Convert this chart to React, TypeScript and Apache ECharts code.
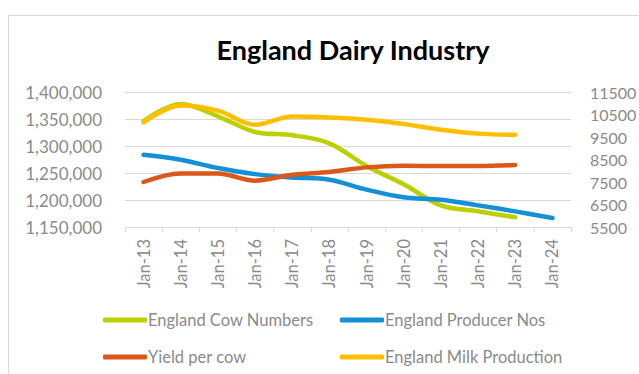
import React, { useEffect, useRef } from "react";
import * as echarts from "echarts";

const categories = ["Jan-13", "Jan-14", "Jan-15", "Jan-16", "Jan-17", "Jan-18", "Jan-19", "Jan-20", "Jan-21", "Jan-22", "Jan-23", "Jan-24"];
const cowNumbers = [1346000, 1378000, 1355000, 1326000, 1320000, 1305000, 1263000, 1229000, 1190000, 1179000, 1168000, null];
const producerNos = [8710, 8490, 8120, 7850, 7700, 7600, 7160, 6820, 6710, 6460, 6195, 5900];
const yieldPerCow = [7500, 7880, 7880, 7560, 7820, 7945, 8150, 8220, 8210, 8210, 8255, null];
const milkProduction = [10150, 10900, 10670, 10050, 10415, 10370, 10270, 10080, 9825, 9650, 9600, null];
const leftTicks = [1150000, 1200000, 1250000, 1300000, 1350000, 1400000];
const rightTicks = [5500, 6500, 7500, 8500, 9500, 10500, 11500];

const FONT = "Lato";
const GRAY = "#8a8a8a";

export default function App() {
  const ref = useRef<HTMLDivElement>(null);
  useEffect(() => {
    const chart = echarts.init(ref.current!, null, { renderer: "svg" });
    const lineSeries = (name: string, data: any[], color: string, yAxisIndex: number) => ({
      name,
      type: "line",
      data,
      yAxisIndex,
      smooth: 0.35,
      symbol: "none",
      lineStyle: { color, width: 4.5, cap: "round", join: "round" },
      itemStyle: { color },
    });
    const legendItem = (name: string, left: number, top: number) => ({
      left,
      top,
      itemWidth: 44,
      itemHeight: 5,
      icon: "roundRect",
      data: [name],
      textStyle: { color: GRAY, fontSize: 16.5, fontFamily: FONT, lineHeight: 20, padding: [0, 0, 0, -4] },
    });
    chart.setOption({
      animation: false,
      backgroundColor: "#ffffff",
      textStyle: { fontFamily: FONT },
      title: {
        text: "England Dairy Industry",
        left: 348,
        top: 31,
        textAlign: "center",
        textStyle: { fontFamily: FONT, fontWeight: "bold", fontSize: 27, color: "#000000" },
      },
      graphic: [
        {
          type: "rect",
          shape: { x: 8.5, y: 15.5, width: 700, height: 500 },
          style: { fill: "none", stroke: "#d9d9d9", lineWidth: 1 },
          silent: true,
        },
      ],
      legend: [
        legendItem("England Cow Numbers", 98, 305),
        legendItem("Yield per cow", 98, 342),
        legendItem("England Producer Nos", 335, 305),
        legendItem("England Milk Production", 335, 342),
      ],
      grid: { left: 125, right: 68, top: 92, bottom: 147, outerBoundsMode: "none", containLabel: false },
      xAxis: {
        type: "category",
        data: categories,
        boundaryGap: true,
        axisLine: { lineStyle: { color: "#d9d9d9", width: 1 } },
        axisTick: { show: true, length: 5, lineStyle: { color: "#d9d9d9" } },
        axisLabel: { rotate: 90, color: GRAY, fontSize: 16.5, fontFamily: FONT, margin: 12, interval: 0 },
      },
      yAxis: [
        {
          type: "value",
          min: 1150000,
          max: 1400000,
          interval: 50000,
          axisLine: { show: false },
          axisTick: { show: false },
          splitLine: { show: true, lineStyle: { color: "#d9d9d9", width: 1 } },
          axisLabel: {
            color: GRAY,
            fontSize: 17,
            fontFamily: FONT,
            margin: 23,
            customValues: leftTicks,
            formatter: (v: number) => v.toLocaleString("en-US"),
          },
        },
        {
          type: "value",
          min: 5500,
          max: 11500,
          position: "right",
          axisLine: { show: false },
          axisTick: { show: false },
          splitLine: { show: false },
          axisLabel: {
            color: GRAY,
            fontSize: 16,
            fontFamily: FONT,
            margin: 19,
            customValues: rightTicks,
            formatter: (v: number) => String(v),
          },
        },
      ],
      series: [
        lineSeries("England Cow Numbers", cowNumbers, "#bccf00", 0),
        lineSeries("England Producer Nos", producerNos, "#1490d6", 1),
        lineSeries("Yield per cow", yieldPerCow, "#d9581a", 1),
        lineSeries("England Milk Production", milkProduction, "#ffbf00", 1),
      ],
    });
    return () => chart.dispose();
  }, []);
  return <div ref={ref} style={{ position: "fixed", left: 0, top: 0, width: 639, height: 374 }} />;
}
